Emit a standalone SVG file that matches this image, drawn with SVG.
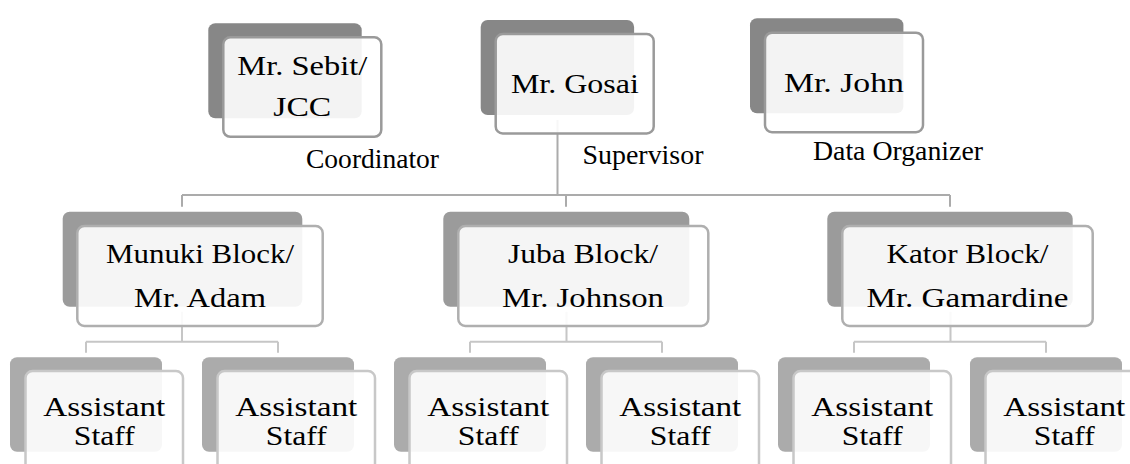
<svg xmlns="http://www.w3.org/2000/svg" width="1130" height="464" viewBox="0 0 1130 464">
<style>
.t{font-family:"Liberation Serif","Times New Roman",serif;font-size:27px;fill:#000;text-anchor:middle}
.lbl{font-family:"Liberation Serif","Times New Roman",serif;font-size:27px;fill:#000}
.d1{fill:#878787}.d2{fill:#9b9b9b}.d3{fill:#ababab}
.f{fill:#fff;fill-opacity:0.9;stroke-width:2.5}
.f1{stroke:#9a9a9a}.f2{stroke:#afafaf}.f3{stroke:#c8c8c8}
.c1{stroke:#ababab;stroke-width:2;fill:none}
.c2{stroke:#c6c6c6;stroke-width:2;fill:none}
</style>
<rect width="1130" height="464" fill="#fff"/>
<g id="connectors">
<path class="c1" d="M557.5 120V195M182 195H950M182 195V206.7M566 195V206.7M950 195V206.7"/>
<path class="c2" d="M182 311.7V341.7M86 341.7H278M86 341.7V352.7M278 341.7V352.7"/>
<path class="c2" d="M566.5 311.7V341.7M470 341.7H662M470 341.7V352.7M662 341.7V352.7"/>
<path class="c2" d="M950.5 311.7V341.7M854 341.7H1046M854 341.7V352.7M1046 341.7V352.7"/>
</g>
<g id="sebit">
<rect class="d1" x="208.3" y="23.3" width="153.4" height="95" rx="7"/>
<rect class="f f1" x="223.3" y="37.3" width="158" height="99.5" rx="7"/>
<text class="t" x="302.3" y="75" textLength="130" lengthAdjust="spacingAndGlyphs">Mr. Sebit/</text>
<text class="t" x="302.3" y="116" textLength="58" lengthAdjust="spacingAndGlyphs">JCC</text>
</g>
<g id="gosai">
<rect class="d1" x="480.7" y="20" width="153.4" height="95" rx="7"/>
<rect class="f f1" x="495.7" y="34" width="158" height="99.5" rx="7"/>
<text class="t" x="574.9" y="93" textLength="128" lengthAdjust="spacingAndGlyphs">Mr. Gosai</text>
</g>
<g id="john">
<rect class="d1" x="750" y="18.3" width="153.4" height="95" rx="7"/>
<rect class="f f1" x="765" y="32.7" width="158" height="99.5" rx="7"/>
<text class="t" x="843.9" y="91.7" textLength="120" lengthAdjust="spacingAndGlyphs">Mr. John</text>
</g>
<g id="labels">
<text class="lbl" x="306" y="168" textLength="133" lengthAdjust="spacingAndGlyphs">Coordinator</text>
<text class="lbl" x="582.5" y="163.5" textLength="121" lengthAdjust="spacingAndGlyphs">Supervisor</text>
<text class="lbl" x="813" y="160" textLength="170" lengthAdjust="spacingAndGlyphs">Data Organizer</text>
</g>
<g id="munuki">
<rect class="d2" x="62.7" y="211.7" width="239.6" height="95" rx="7"/>
<rect class="f f2" x="77.3" y="226" width="245.4" height="100" rx="7"/>
<text class="t" x="200" y="263.3" textLength="188" lengthAdjust="spacingAndGlyphs">Munuki Block/</text>
<text class="t" x="200" y="306.7" textLength="132" lengthAdjust="spacingAndGlyphs">Mr. Adam</text>
</g>
<g id="juba">
<rect class="d2" x="443.3" y="211.7" width="246" height="95" rx="7"/>
<rect class="f f2" x="458.3" y="226" width="250" height="100" rx="7"/>
<text class="t" x="583" y="263.3" textLength="150" lengthAdjust="spacingAndGlyphs">Juba Block/</text>
<text class="t" x="583" y="306.7" textLength="162" lengthAdjust="spacingAndGlyphs">Mr. Johnson</text>
</g>
<g id="kator">
<rect class="d2" x="827.3" y="211.7" width="245.4" height="95" rx="7"/>
<rect class="f f2" x="842.3" y="226" width="250.4" height="100" rx="7"/>
<text class="t" x="967.5" y="263.3" textLength="162" lengthAdjust="spacingAndGlyphs">Kator Block/</text>
<text class="t" x="967.5" y="306.7" textLength="202" lengthAdjust="spacingAndGlyphs">Mr. Gamardine</text>
</g>
<g id="staff1">
<rect class="d3" x="10" y="357.3" width="152" height="94.4" rx="7"/>
<rect class="f f3" x="25.5" y="371" width="157.5" height="100" rx="7"/>
<text class="t" x="104.3" y="416" textLength="122" lengthAdjust="spacingAndGlyphs">Assistant</text>
<text class="t" x="104.3" y="445" textLength="61" lengthAdjust="spacingAndGlyphs">Staff</text>
</g>
<g id="staff2">
<rect class="d3" x="202" y="357.3" width="152" height="94.4" rx="7"/>
<rect class="f f3" x="217.5" y="371" width="157.5" height="100" rx="7"/>
<text class="t" x="296.3" y="416" textLength="122" lengthAdjust="spacingAndGlyphs">Assistant</text>
<text class="t" x="296.3" y="445" textLength="61" lengthAdjust="spacingAndGlyphs">Staff</text>
</g>
<g id="staff3">
<rect class="d3" x="394" y="357.3" width="152" height="94.4" rx="7"/>
<rect class="f f3" x="409.5" y="371" width="157.5" height="100" rx="7"/>
<text class="t" x="488.3" y="416" textLength="122" lengthAdjust="spacingAndGlyphs">Assistant</text>
<text class="t" x="488.3" y="445" textLength="61" lengthAdjust="spacingAndGlyphs">Staff</text>
</g>
<g id="staff4">
<rect class="d3" x="586" y="357.3" width="152" height="94.4" rx="7"/>
<rect class="f f3" x="601.5" y="371" width="157.5" height="100" rx="7"/>
<text class="t" x="680.3" y="416" textLength="122" lengthAdjust="spacingAndGlyphs">Assistant</text>
<text class="t" x="680.3" y="445" textLength="61" lengthAdjust="spacingAndGlyphs">Staff</text>
</g>
<g id="staff5">
<rect class="d3" x="778" y="357.3" width="152" height="94.4" rx="7"/>
<rect class="f f3" x="793.5" y="371" width="157.5" height="100" rx="7"/>
<text class="t" x="872.3" y="416" textLength="122" lengthAdjust="spacingAndGlyphs">Assistant</text>
<text class="t" x="872.3" y="445" textLength="61" lengthAdjust="spacingAndGlyphs">Staff</text>
</g>
<g id="staff6">
<rect class="d3" x="970" y="357.3" width="152" height="94.4" rx="7"/>
<rect class="f f3" x="985.5" y="371" width="157.5" height="100" rx="7"/>
<text class="t" x="1064.3" y="416" textLength="122" lengthAdjust="spacingAndGlyphs">Assistant</text>
<text class="t" x="1064.3" y="445" textLength="61" lengthAdjust="spacingAndGlyphs">Staff</text>
</g>
</svg>
